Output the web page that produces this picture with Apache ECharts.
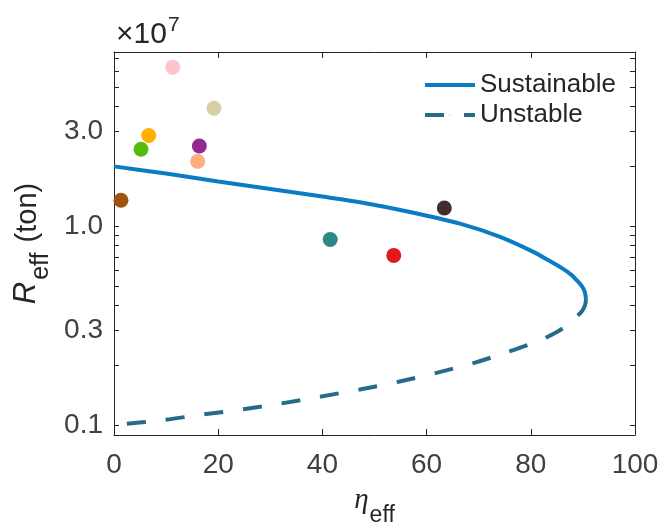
<!DOCTYPE html>
<html>
<head>
<meta charset="utf-8">
<script src="https://cdn.jsdelivr.net/npm/echarts@6/dist/echarts.min.js"></script>
<style>html,body{margin:0;padding:0;background:#fff;}#c{width:659px;height:527px;}</style>
</head>
<body>
<div id="c"></div>
<script>
// Values of R are in units of 1e7 ton
const etaSustainable = [0, 10, 20, 30, 40, 47.2, 56.8, 66.4, 74.1, 80.5, 83.3, 85.9, 87.8, 88.8, 89.8, 90.35, 90.6];
const rSustainable   = [2.00, 1.84, 1.68, 1.54, 1.41, 1.32, 1.18, 1.03, 0.884, 0.743, 0.676, 0.617, 0.569, 0.535, 0.50, 0.468, 0.43];
const etaUnstable = [90.6, 90.4, 89.7, 88.4, 86.8, 85.0, 81.8, 74.7, 69.3, 61.9, 54.6, 47.2, 39.5, 32.2, 24.8, 17.1, 9.5, 0];
const rUnstable   = [0.43, 0.40, 0.37, 0.345, 0.315, 0.294, 0.267, 0.229, 0.206, 0.183, 0.165, 0.151, 0.1388, 0.1285, 0.120, 0.113, 0.106, 0.100];
const pointEta = [11.27, 19.19, 6.66, 5.18, 16.38, 16.06, 1.34, 41.5, 53.7, 63.4];
const pointR   = [6.31, 3.92, 2.86, 2.44, 2.53, 2.12, 1.35, 0.857, 0.713, 1.235];
const pointColors = ['#FFC3CD', '#D5CFA3', '#FFB000', '#55BB0E', '#912A90', '#FFAE80', '#A0520F', '#2A8984', '#E01A1A', '#452C2D'];
const xTicks = [0, 20, 40, 60, 80, 100];
const yMajorTicks = [0.1, 0.3, 1.0, 3.0];
const yMinorTicks = [0.2, 0.4, 0.5, 0.6, 0.7, 0.8, 0.9, 2, 4, 5, 6, 7];
const yRange = [0.0891, 7.52];
const seriesNames = ['Sustainable', 'Unstable'];

const L = v => Math.log10(v);
const font = 'Liberation Sans, Arial, Helvetica, sans-serif';
const axisColor = '#262626';
const labelColor = '#404040';
const yMinL = L(yRange[0]), yMaxL = L(yRange[1]);
const majorL = yMajorTicks.map(L);
const allTicksL = yMajorTicks.concat(yMinorTicks).map(L);

const sustData = etaSustainable.map((e, i) => [e, L(rSustainable[i])]);
const unstData = etaUnstable.map((e, i) => [e, L(rUnstable[i])]);
const pts = pointEta.map((e, i) => ({ value: [e, L(pointR[i])], itemStyle: { color: pointColors[i], opacity: 1 } }));

const baseX = {
  type: 'value', min: xTicks[0], max: xTicks[xTicks.length - 1], interval: 20,
  splitLine: { show: false },
  axisLine: { show: true, onZero: false, lineStyle: { color: axisColor, width: 1 } },
  axisTick: { show: true, inside: true, length: 6, lineStyle: { color: axisColor } }
};
const baseY = {
  type: 'value', min: yMinL, max: yMaxL,
  splitLine: { show: false },
  axisLine: { show: true, onZero: false, lineStyle: { color: axisColor, width: 1 } },
  axisTick: { show: true, inside: true, length: 5, customValues: allTicksL, lineStyle: { color: axisColor } }
};

const chart = echarts.init(document.getElementById('c'), null, { renderer: 'canvas' });
chart.setOption({
  animation: false,
  backgroundColor: '#fff',
  grid: { left: 114, right: 24, top: 52, bottom: 92, containLabel: false, outerBoundsMode: 'none' },
  xAxis: [
    Object.assign({}, baseX, {
      position: 'bottom',
      axisLabel: { show: true, fontSize: 28, fontFamily: font, color: labelColor, margin: 16, hideOverlap: false },
      name: '{e|η}{s|eff}', nameLocation: 'middle', nameGap: 51,
      nameTextStyle: {
        rich: {
          e: { fontSize: 29, fontFamily: 'Liberation Serif, DejaVu Serif, serif', fontStyle: 'italic', color: '#262626', lineHeight: 29, verticalAlign: 'top' },
          s: { fontSize: 23, fontFamily: font, color: '#262626', lineHeight: 23, padding: [18, 0, 0, 1], verticalAlign: 'top' }
        }
      }
    }),
    Object.assign({}, baseX, { position: 'top', axisLabel: { show: false } })
  ],
  yAxis: [
    Object.assign({}, baseY, {
      position: 'left',
      axisLabel: {
        show: true, customValues: majorL, fontSize: 28, fontFamily: font, color: labelColor, margin: 11,
        formatter: v => Math.pow(10, v).toFixed(1)
      },
      name: '{r|R}{s|eff}{t| (ton)}', nameLocation: 'middle', nameGap: 63, nameRotate: 90,
      nameTextStyle: {
        rich: {
          r: { fontSize: 31, fontFamily: font, fontStyle: 'italic', color: '#262626', lineHeight: 31, verticalAlign: 'top' },
          s: { fontSize: 25, fontFamily: font, color: '#262626', lineHeight: 25, padding: [17, 2, 0, 2], verticalAlign: 'top' },
          t: { fontSize: 29, fontFamily: font, color: '#262626', lineHeight: 29, padding: [2, 0, 0, 0], verticalAlign: 'top' }
        }
      }
    }),
    Object.assign({}, baseY, { position: 'right', axisLabel: { show: false } })
  ],
  legend: {
    data: seriesNames, orient: 'vertical', left: 423, top: 71, padding: 0,
    itemWidth: 50, itemHeight: 1, itemGap: 2,
    lineStyle: { width: 4 },
    textStyle: { fontSize: 26, fontFamily: font, color: '#262626', lineHeight: 28 }
  },
  graphic: [{
    type: 'text', left: 116, top: 15,
    style: {
      text: '{a|×10}{b|7}',
      rich: {
        a: { fontSize: 30, fontFamily: font, fill: '#262626', lineHeight: 30, padding: [5, 0, 0, 0], verticalAlign: 'top' },
        b: { fontSize: 21, fontFamily: font, fill: '#262626', lineHeight: 21, padding: [0, 0, 0, 1], verticalAlign: 'top' }
      }
    }
  }],
  series: [
    { name: seriesNames[0], type: 'line', data: sustData, symbol: 'none', smooth: 0.3,
      lineStyle: { color: '#0A7CC6', width: 4 }, itemStyle: { color: '#0A7CC6' }, z: 2 },
    { name: seriesNames[1], type: 'line', data: unstData, symbol: 'none', smooth: 0.3,
      lineStyle: { color: '#276B8B', width: 4, type: [19, 20] }, itemStyle: { color: '#276B8B' }, z: 2 },
    { name: 'points', type: 'scatter', data: pts, symbol: 'circle', symbolSize: 15, z: 3 }
  ]
});
</script>
</body>
</html>
